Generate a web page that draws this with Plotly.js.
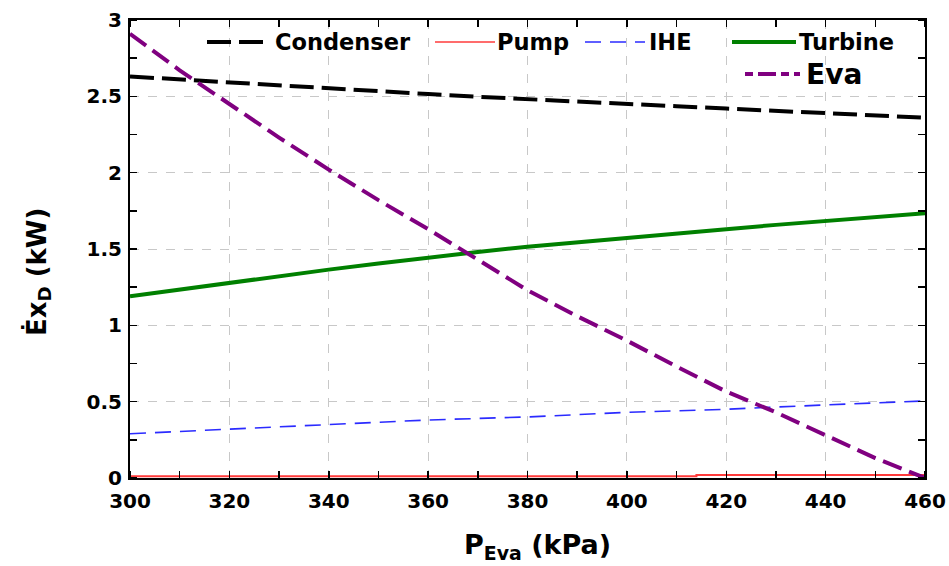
<!DOCTYPE html>
<html>
<head>
<meta charset="utf-8">
<script src="https://cdn.plot.ly/plotly-3.0.1.min.js"></script>
<style>html,body{margin:0;padding:0;background:#fff;}#chart{width:949px;height:566px;}</style>
</head>
<body>
<div id="chart"></div>
<script>
// Data
const pEva = [300, 310, 320, 330, 340, 350, 360, 370, 380, 390, 400, 410, 420, 430, 440, 450, 460];
const condenser = [2.63, 2.61, 2.59, 2.57, 2.55, 2.532, 2.515, 2.497, 2.48, 2.465, 2.45, 2.435, 2.42, 2.405, 2.39, 2.375, 2.36];
const turbine = [1.19, 1.235, 1.28, 1.323, 1.365, 1.405, 1.445, 1.48, 1.515, 1.545, 1.575, 1.603, 1.63, 1.658, 1.685, 1.71, 1.735];
const ihe = [0.29, 0.305, 0.32, 0.335, 0.35, 0.365, 0.38, 0.39, 0.40, 0.415, 0.43, 0.44, 0.45, 0.465, 0.48, 0.492, 0.505];
const eva = [2.91, 2.67, 2.45, 2.23, 2.02, 1.82, 1.63, 1.43, 1.23, 1.06, 0.90, 0.73, 0.566, 0.43, 0.28, 0.13, 0.0];
const pumpP = [300, 414, 414, 460];
const pump = [0.012, 0.012, 0.02, 0.02];
const xTicks = [300, 320, 340, 360, 380, 400, 420, 440, 460];
const yTicks = [0, 0.5, 1, 1.5, 2, 2.5, 3];
const yTickText = ['0', '0.5', '1', '1.5', '2', '2.5', '3'];
const xTitle = 'P<sub>Eva</sub> (kPa)';
const yTitle = 'Ėx<sub>D</sub> (kW)';

const names = ['Condenser', 'Pump', 'IHE', 'Turbine', 'Eva'];
const colors = ['#000000', '#ff3b3b', '#2b2bff', '#008000', '#800080'];

const FONT = 'DejaVu Sans, Liberation Sans, Arial, sans-serif';

const traces = [
  {x: pEva, y: condenser, name: names[0], mode: 'lines', line: {color: colors[0], width: 4, dash: '24px,8px'}},
  {x: pumpP, y: pump, name: names[1], mode: 'lines', line: {color: colors[1], width: 2}},
  {x: pEva, y: ihe, name: names[2], mode: 'lines', line: {color: colors[2], width: 1.6, dash: '16px,9px'}},
  {x: pEva, y: turbine, name: names[3], mode: 'lines', line: {color: colors[3], width: 4}},
  {x: pEva, y: eva, name: names[4], mode: 'lines', line: {color: colors[4], width: 4, dash: '20px,8px'}}
];

// custom legend (samples in paper coords, text as annotations)
const legendItems = [
  {i: 0, x0: 207, x1: 270, tx: 273, y: 42, size: 22.5, dash: '24px,8px', w: 4},
  {i: 1, x0: 435, x1: 495, tx: 495, y: 42, size: 22.5, dash: 'solid', w: 1.5},
  {i: 2, x0: 585, x1: 645, tx: 647, y: 42, size: 22.5, dash: '16px,9px', w: 1.5},
  {i: 3, x0: 732, x1: 796, tx: 797, y: 42, size: 22.5, dash: 'solid', w: 4},
  {i: 4, x0: 745, x1: 800, tx: 804, y: 74, size: 28, dash: '8px,5px,18px,5px', w: 4}
];
const W = 949, H = 566;
const px = v => (v - 130) / 795;
const py = v => (478 - v) / 458;
const shapes = [], annotations = [];
legendItems.forEach(it => {
  shapes.push({type: 'line', xref: 'paper', yref: 'paper',
    x0: px(it.x0), x1: px(it.x1), y0: py(it.y), y1: py(it.y),
    line: {color: colors[it.i], width: it.w, dash: it.dash}});
  annotations.push({xref: 'paper', yref: 'paper', x: px(it.tx), y: py(it.y),
    xanchor: 'left', yanchor: 'middle', showarrow: false, text: names[it.i],
    font: {family: FONT, size: it.size, color: '#000', weight: 'bold'}});
});
// axis titles placed as in the reference
annotations.push({xref: 'paper', yref: 'paper', x: px(537), y: py(546), xanchor: 'center', yanchor: 'middle',
  showarrow: false, text: xTitle, font: {family: FONT, size: 27, color: '#000', weight: 'bold'}});
annotations.push({xref: 'paper', yref: 'paper', x: px(38), y: py(272), xanchor: 'center', yanchor: 'middle',
  textangle: -90, showarrow: false, text: yTitle, font: {family: FONT, size: 26, color: '#000', weight: 'bold'}});

const layout = {
  width: W, height: H,
  margin: {l: 130, r: 24, t: 20, b: 88},
  paper_bgcolor: '#ffffff', plot_bgcolor: '#ffffff',
  showlegend: false,
  xaxis: {
    range: [300, 460], tickvals: xTicks, ticks: '', showline: true, linecolor: '#000', linewidth: 2, mirror: 'ticks',
    showgrid: true, gridcolor: '#c8c8c8', griddash: 'dash', gridwidth: 1, zeroline: false,
    ticklabelstandoff: 4,
    tickfont: {family: FONT, size: 20, color: '#000', weight: 'bold'},
    minor: {dtick: 10, ticks: 'inside', ticklen: 7, tickcolor: '#000', tickwidth: 1.5, showgrid: false}
  },
  yaxis: {
    range: [0, 3], tickvals: yTicks, ticktext: yTickText, ticks: '', showline: true, linecolor: '#000', linewidth: 2, mirror: 'ticks',
    showgrid: true, gridcolor: '#c8c8c8', griddash: 'dash', gridwidth: 1, zeroline: false,
    ticklabelstandoff: 2,
    tickfont: {family: FONT, size: 20, color: '#000', weight: 'bold'},
    minor: {dtick: 0.25, ticks: 'inside', ticklen: 7, tickcolor: '#000', tickwidth: 1.5, showgrid: false}
  },
  shapes: shapes,
  annotations: annotations
};

Plotly.newPlot('chart', traces, layout, {displayModeBar: false, staticPlot: true});
</script>
</body>
</html>
